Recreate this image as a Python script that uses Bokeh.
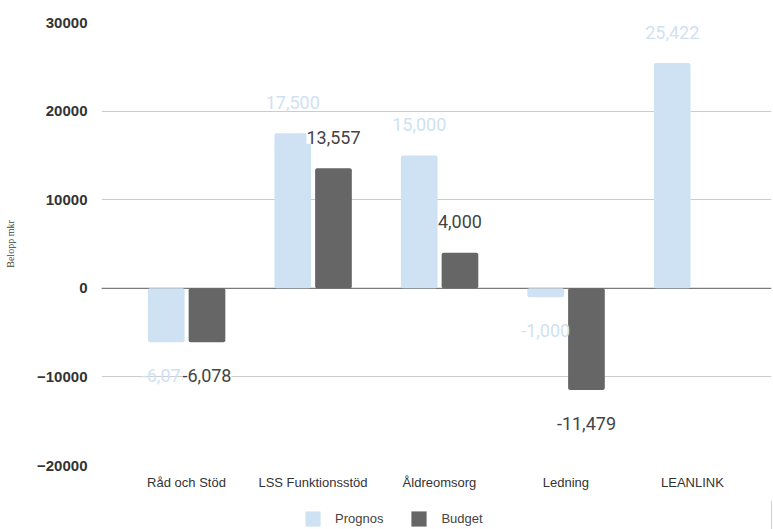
from bokeh.plotting import figure
from bokeh.layouts import column
from bokeh.models import ColumnDataSource, Range1d, FixedTicker, Span, Legend, LegendItem, BasicTickFormatter
from bokeh.transform import dodge
from bokeh.core.properties import value
from bokeh.embed import file_html
from bokeh.resources import INLINE

categories = ["Råd och Stöd", "LSS Funktionsstöd", "Åldreomsorg", "Ledning", "LEANLINK"]
prognos = [-6078, 17500, 15000, -1000, 25422]
budget = [-6078, 13557, 4000, -11479, None]
y_ticks = [-20000, -10000, 0, 10000, 20000, 30000]
series = ["Prognos", "Budget"]

PROG_COLOR = "#cfe2f3"
BUD_COLOR = "#666666"

p = figure(width=773, height=500, output_backend="svg", toolbar_location=None,
           x_range=Range1d(-0.672, 4.625), y_range=Range1d(-20000, 30000),
           min_border_left=101, min_border_right=2, min_border_top=22, min_border_bottom=35)
p.outline_line_color = None
p.background_fill_color = "white"
p.border_fill_color = "white"

# grid
p.xgrid.visible = False
p.ygrid.ticker = FixedTicker(ticks=y_ticks)
p.ygrid.grid_line_color = "#cccccc"
p.ygrid.grid_line_width = 1

# axes
p.yaxis.ticker = FixedTicker(ticks=y_ticks)
p.yaxis.formatter = BasicTickFormatter(use_scientific=False)
p.yaxis.major_label_text_font = "Liberation Sans"
p.yaxis.major_label_text_font_size = "15px"
p.yaxis.major_label_text_font_style = "bold"
p.yaxis.major_label_text_color = "#333333"
p.yaxis.major_label_standoff = 8
p.yaxis.axis_line_color = None
p.yaxis.major_tick_line_color = None
p.yaxis.minor_tick_line_color = None
p.yaxis.axis_label = "Belopp mkr"
p.yaxis.axis_label_text_font = "Liberation Serif"
p.yaxis.axis_label_text_font_size = "10px"
p.yaxis.axis_label_text_font_style = "normal"
p.yaxis.axis_label_text_color = "#444444"
p.yaxis.axis_label_standoff = 18

idx = list(range(len(categories)))
p.xaxis.ticker = FixedTicker(ticks=idx)
p.xaxis.major_label_overrides = {i: c for i, c in zip(idx, categories)}
p.xaxis.major_label_text_font = "Liberation Sans"
p.xaxis.major_label_text_font_size = "13px"
p.xaxis.major_label_text_color = "#333333"
p.xaxis.major_label_standoff = 3
p.xaxis.axis_line_color = None
p.xaxis.major_tick_line_color = None
p.xaxis.minor_tick_line_color = None

zero = Span(location=0, dimension="width", line_color="#666666", line_width=1, level="underlay")
p.add_layout(zero)

def offs(vals):
    return [-31 if v > 0 else 33 for v in vals]

src_p = ColumnDataSource(dict(x=idx, top=prognos, label=[f"{v:,}" for v in prognos], yo=offs(prognos)))
b_idx = [i for i, v in zip(idx, budget) if v is not None]
b_vals = [v for v in budget if v is not None]
src_b = ColumnDataSource(dict(x=b_idx, top=b_vals, label=[f"{v:,}" for v in b_vals], yo=offs(b_vals)))

p.vbar(x=dodge("x", -0.16, range=p.x_range), top="top", bottom=0, width=0.29, source=src_p,
       fill_color=PROG_COLOR, line_color=None, border_radius=2)
p.vbar(x=dodge("x", 0.162, range=p.x_range), top="top", bottom=0, width=0.29, source=src_b,
       fill_color=BUD_COLOR, line_color=None, border_radius=2)

p.text(x=dodge("x", -0.16, range=p.x_range), y="top", text="label", y_offset="yo", source=src_p,
       text_font=value("Roboto"), text_font_size="18px", text_color=PROG_COLOR,
       text_align="center", text_baseline="middle")
p.text(x=dodge("x", 0.162, range=p.x_range), y="top", text="label", y_offset="yo", source=src_b,
       text_font=value("Roboto"), text_font_size="18px", text_color="#444444",
       text_align="center", text_baseline="middle", background_fill_color="white")

# legend strip below the chart (dummy bars lie outside its view)
lg = figure(width=773, height=29, output_backend="svg", toolbar_location=None,
            x_range=Range1d(0, 1), y_range=Range1d(0, 1), x_axis_type=None, y_axis_type=None,
            min_border_left=0, min_border_right=0, min_border_top=0, min_border_bottom=0)
lg.outline_line_color = None
lg.xgrid.visible = False
lg.ygrid.visible = False
lp = lg.vbar(x=[5], top=[1], bottom=[0], width=0.1, fill_color=PROG_COLOR, line_color=None)
lb = lg.vbar(x=[6], top=[1], bottom=[0], width=0.1, fill_color=BUD_COLOR, line_color=None)
legend = Legend(items=[LegendItem(label=series[0], renderers=[lp]), LegendItem(label=series[1], renderers=[lb])],
                orientation="horizontal", location=(202, 1), padding=0, margin=0,
                border_line_color=None, background_fill_alpha=0,
                glyph_width=19, glyph_height=19, label_standoff=13, spacing=26,
                label_text_font="Liberation Sans", label_text_font_size="13px", label_text_color="#444444")
lg.add_layout(legend)

layout = column(p, lg, spacing=0)
open("out.html", "w").write(file_html(layout, INLINE))
